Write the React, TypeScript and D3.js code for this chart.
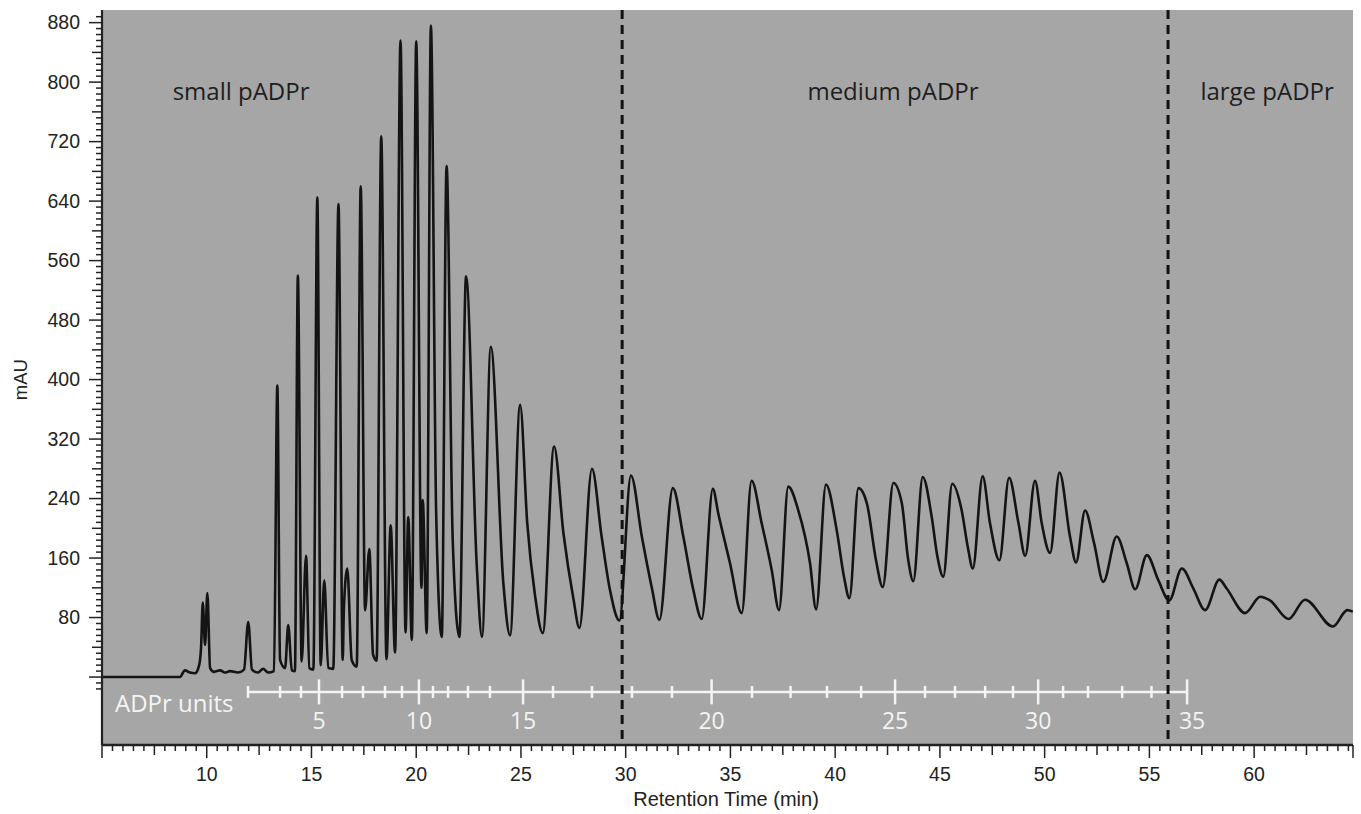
import React from "react";
import * as d3 from "d3";

// chromatogram trace as [retention time (min), mAU]
const earlyTrace: [number, number][] = [
  [5.0, 0], [8.25, 0], [8.72, 0], [8.96, 9], [9.2, 6], [9.44, 5], [9.63, 15], [9.73, 40],
  [9.81, 100], [9.92, 43], [10.03, 113], [10.16, 12], [10.35, 7], [10.63, 9], [10.87, 6],
  [11.11, 8], [11.49, 6], [11.78, 10], [11.98, 74], [12.16, 10], [12.45, 6], [12.69, 11],
  [12.93, 6], [13.21, 8],
];

const smallTrace: [number, number][] = [
  [13.37, 392], [13.5, 23], [13.74, 12], [13.89, 70], [14.06, 9], [14.21, 8],
  [14.35, 540], [14.53, 21], [14.74, 163], [14.9, 12], [15.09, 10],
  [15.28, 645], [15.44, 16], [15.61, 130], [15.8, 12], [16.04, 11],
  [16.29, 636], [16.49, 23], [16.55, 94], [16.71, 146], [16.92, 23], [17.16, 14],
  [17.35, 660], [17.56, 90], [17.76, 172], [17.94, 30], [18.11, 22],
  [18.33, 727], [18.58, 24], [18.78, 204], [18.99, 33],
  [19.25, 856], [19.49, 60], [19.62, 215], [19.79, 50],
  [20.0, 855], [20.25, 120], [20.31, 238], [20.5, 59],
  [20.7, 876], [20.95, 224], [21.22, 54],
  [21.45, 687], [21.74, 187], [22.06, 54],
  [22.38, 539], [22.89, 150], [23.14, 54],
  [23.56, 444], [24.16, 126], [24.48, 56],
  [24.96, 366], [25.3, 207], [25.67, 110], [26.04, 59],
  [26.58, 310], [27.03, 193], [27.5, 106], [27.79, 66],
  [28.39, 280], [28.85, 189], [29.25, 117], [29.7, 76],
];

const mediumTrace: [number, number][] = [
  [30.25, 271], [30.77, 189], [31.24, 121], [31.61, 77],
  [32.25, 254], [32.75, 189], [33.23, 117], [33.63, 78],
  [34.16, 253], [34.42, 220], [34.98, 153], [35.54, 86],
  [36.01, 264], [36.49, 207], [36.97, 144], [37.32, 90],
  [37.76, 256], [38.24, 224], [38.8, 153], [39.09, 91],
  [39.56, 259], [40.07, 198], [40.42, 135], [40.68, 106],
  [41.11, 254], [41.51, 234], [41.95, 157], [42.27, 121],
  [42.78, 261], [43.18, 234], [43.49, 157], [43.73, 129],
  [44.18, 269], [44.61, 215], [44.88, 162], [45.16, 135],
  [45.59, 260], [46.04, 224], [46.33, 175], [46.57, 146],
  [47.04, 270], [47.39, 207], [47.84, 157],
  [48.3, 268], [48.75, 207], [49.07, 163],
  [49.54, 264], [49.86, 207], [50.26, 167],
  [50.71, 275], [51.21, 189], [51.5, 154],
  [51.93, 224], [52.36, 180], [52.8, 128],
  [53.44, 189], [53.92, 153], [54.32, 118],
  [54.88, 164], [55.43, 130], [55.95, 103],
];

const largeTrace: [number, number][] = [
  [56.55, 146], [57.1, 119], [57.66, 90],
  [58.34, 131], [58.69, 119], [59.57, 86],
  [60.29, 108], [60.76, 103], [61.64, 78],
  [62.43, 104], [63.76, 68], [64.45, 90], [64.71, 88],
];

// region boundaries (min)
const boundaries = [29.83, 55.89];

// ADPr unit scale: unit number and retention time of each oligomer
const adprUnits = d3.range(2, 36);
const adprTimes = [
  11.97, 13.5, 14.5, 15.36, 16.46, 17.46, 18.51, 19.32, 20.13, 20.8, 21.52, 22.47,
  23.52, 25.1, 26.53, 28.39, 30.3, 32.21, 34.1, 36.03, 37.87, 39.61, 41.24, 42.86,
  44.29, 45.72, 47.16, 48.49, 49.69, 50.88, 52.07, 53.7, 55.1, 56.8,
];

const xMajorTicks = d3.range(10, 61, 5);
const xMinorTicks = d3.range(5, 64.6, 0.5);
const yTicks = d3.range(-16, 889, 8);
const yLabels = d3.range(80, 881, 80);

const W = 1361;
const H = 814;
const plot = { left: 102, right: 1353, top: 10, bottom: 745 };

export default function App() {
  const x = d3.scaleLinear().domain([5, 64.72]).range([plot.left, plot.right]);
  const y = d3.scaleLinear().domain([-91.4, 897]).range([plot.bottom, plot.top]);

  const trace = [...earlyTrace, ...smallTrace, ...mediumTrace, ...largeTrace];
  const line = d3
    .line<[number, number]>()
    .x((d) => x(d[0]))
    .y((d) => y(d[1]))
    .curve(d3.curveMonotoneX);

  const scaleY = y(-20);
  const axisFont = "'Liberation Sans', Arial, sans-serif";
  const labelFont = "'Open Sans', sans-serif";

  const near = (v: number, step: number) => Math.abs(v / step - Math.round(v / step)) < 1e-6;

  return (
    <div style={{ position: "absolute", left: 0, top: 0 }}>
      <svg width={W} height={H} style={{ display: "block", background: "#fff" }}>
        <rect
          x={plot.left}
          y={plot.top}
          width={plot.right - plot.left}
          height={plot.bottom - plot.top}
          fill="#a6a6a6"
        />

        {/* region labels */}
        <g fontFamily={labelFont} fontSize={24} fill="#1e1e1e">
          <text x={x(11.64)} y={100} textAnchor="middle">small pADPr</text>
          <text x={x(42.76)} y={100} textAnchor="middle">medium pADPr</text>
          <text x={x(60.62)} y={100} textAnchor="middle">large pADPr</text>
        </g>

        {/* ADPr unit ruler */}
        <g stroke="#f4f4f4" strokeWidth={2.5}>
          <line x1={x(adprTimes[0])} x2={x(adprTimes[adprTimes.length - 1])} y1={scaleY} y2={scaleY} />
          {adprUnits.map((u, i) => {
            const big = u % 5 === 0;
            const h = big ? 12.5 : 6;
            return (
              <line key={u} x1={x(adprTimes[i])} x2={x(adprTimes[i])} y1={scaleY - h} y2={scaleY + h} />
            );
          })}
        </g>
        <g fontFamily={labelFont} fill="#f4f4f4">
          <text x={115} y={712} fontSize={24}>ADPr units</text>
          {adprUnits.map((u, i) =>
            u % 5 === 0 ? (
              <text key={u} x={x(adprTimes[i]) + (u === 35 ? 5 : 0)} y={729} fontSize={23} textAnchor="middle">
                {u}
              </text>
            ) : null
          )}
        </g>

        {/* trace */}
        <path d={line(trace) ?? ""} fill="none" stroke="#141414" strokeWidth={2.6} strokeLinejoin="round" />

        {/* boundaries */}
        {boundaries.map((b) => (
          <line
            key={b}
            x1={x(b)}
            x2={x(b)}
            y1={plot.top}
            y2={plot.bottom}
            stroke="#111"
            strokeWidth={3}
            strokeDasharray="9 6"
          />
        ))}

        {/* y axis */}
        <g stroke="#222" strokeWidth={1.5}>
          <line x1={plot.left} x2={plot.left} y1={plot.top} y2={plot.bottom} strokeWidth={2.2} />
          {yTicks.map((v) => {
            const len = near(v, 80) ? 13 : near(v, 40) ? 10 : 6;
            return <line key={v} x1={plot.left - len} x2={plot.left} y1={y(v)} y2={y(v)} />;
          })}
        </g>
        <g fontFamily={axisFont} fontSize={19.5} fill="#222" textAnchor="end">
          {yLabels.map((v) => (
            <text key={v} x={80} y={y(v)} dy="0.35em">{v}</text>
          ))}
        </g>
        <text
          transform={`translate(27,${y(400)}) rotate(-90)`}
          textAnchor="middle"
          fontFamily={axisFont}
          fontSize={18.5}
          fill="#222"
        >
          mAU
        </text>

        {/* x axis */}
        <g stroke="#222" strokeWidth={1.5}>
          <line x1={plot.left} x2={plot.right} y1={plot.bottom} y2={plot.bottom} strokeWidth={2.4} />
          {xMinorTicks.map((t) => {
            const len = near(t, 5) ? 13 : near(t, 2.5) ? 10 : 6;
            return <line key={t} x1={x(t)} x2={x(t)} y1={plot.bottom} y2={plot.bottom + len} />;
          })}
          <line x1={plot.right} x2={plot.right} y1={plot.bottom} y2={plot.bottom + 13} />
        </g>
        <g fontFamily={axisFont} fontSize={19.5} fill="#222" textAnchor="middle">
          {xMajorTicks.map((t) => (
            <text key={t} x={x(t)} y={781}>{t}</text>
          ))}
        </g>
        <text x={726} y={806} textAnchor="middle" fontFamily={axisFont} fontSize={20} fill="#222">
          Retention Time (min)
        </text>
      </svg>
    </div>
  );
}
